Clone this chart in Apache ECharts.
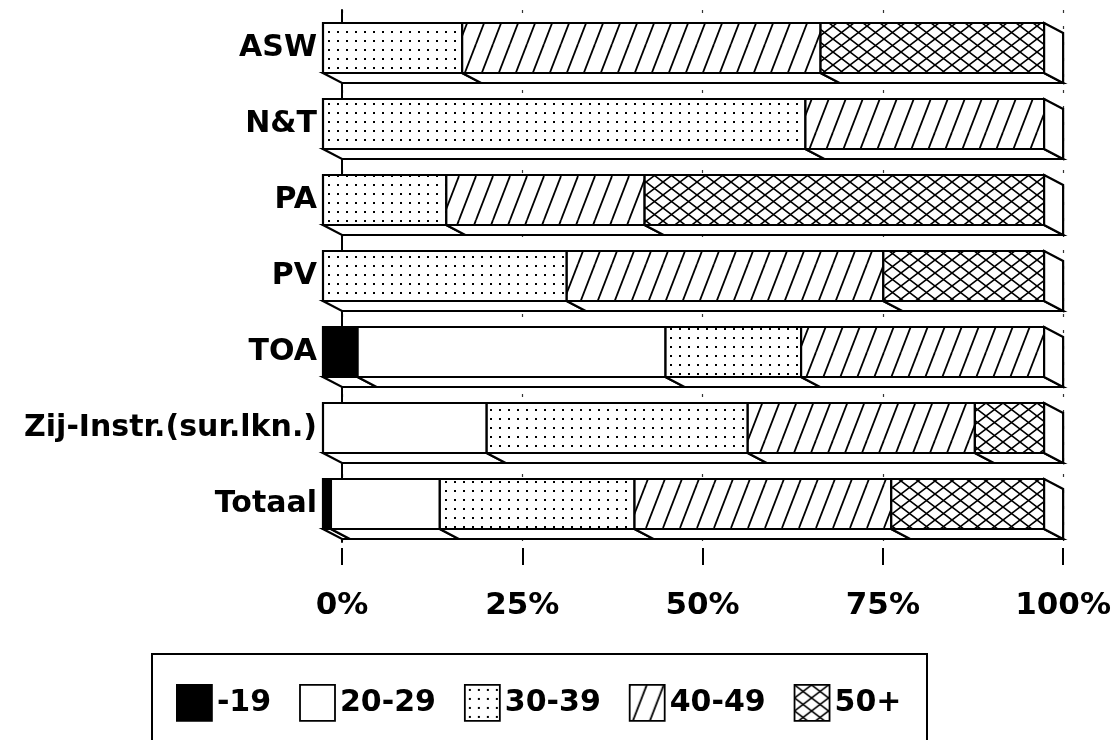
<!DOCTYPE html>
<html>
<head>
<meta charset="utf-8">
<script src="https://cdn.jsdelivr.net/npm/echarts@6/dist/echarts.min.js"></script>
<style>
  html, body { margin: 0; padding: 0; background: #fff; }
  #chart { width: 1114px; height: 740px; }
</style>
</head>
<body>
<div id="chart"></div>
<script>
// categories, top to bottom
var categories = ['ASW', 'N&T', 'PA', 'PV', 'TOA', 'Zij-Instr.(sur.lkn.)', 'Totaal']
var groups = ['-19', '20-29', '30-39', '40-49', '50+']
var tickLabels = ['0%', '25%', '50%', '75%', '100%']

// percentages per age group
var u19 = [0, 0, 0, 0, 4.8, 0, 1.1]
var a20 = [0, 0, 0, 0, 42.7, 22.7, 15.1]
var a30 = [19.3, 66.9, 17.1, 33.8, 18.8, 36.2, 27.0]
var a40 = [49.7, 33.1, 27.5, 43.9, 33.7, 31.5, 35.6]
var a50 = [31.0, 0, 55.4, 22.3, 0, 9.6, 21.2]

var FONT = 'DejaVu Sans'

function tile(w, h, draw) {
  var c = document.createElement('canvas')
  c.width = w
  c.height = h
  var ctx = c.getContext('2d')
  ctx.fillStyle = '#fff'
  ctx.fillRect(0, 0, w, h)
  ctx.strokeStyle = '#000'
  ctx.fillStyle = '#000'
  draw(ctx, w, h)
  return { image: c, repeat: 'repeat' }
}

var dots = tile(9, 9, function (ctx) {
  ctx.fillRect(4, 4, 2, 2)
})
var hatch = tile(17, 44, function (ctx, w, h) {
  ctx.lineWidth = 1.8
  for (var k = -1; k <= 1; k++) {
    ctx.beginPath()
    ctx.moveTo(k * w, h)
    ctx.lineTo(k * w + w, 0)
    ctx.stroke()
  }
})
var cross = tile(17, 13, function (ctx, w, h) {
  ctx.lineWidth = 1.6
  for (var i = -1; i <= 1; i++) {
    for (var j = -1; j <= 1; j++) {
      ctx.beginPath()
      ctx.moveTo(i * w, j * h)
      ctx.lineTo(i * w + w, j * h + h)
      ctx.moveTo(i * w, j * h + h)
      ctx.lineTo(i * w + w, j * h)
      ctx.stroke()
    }
  }
})
var fills = ['#000', '#fff', dots, hatch, cross]
var values = [u19, a20, a30, a40, a50]

// build stacked [start, end, category] rows
var starts = categories.map(function () { return 0 })
var seriesData = values.map(function (vals) {
  return vals.map(function (v, j) {
    var s = starts[j]
    starts[j] += v
    return [s, s + v, j]
  })
})

var DX = 19, DY = 10, H = 50

function makeRender(fill) {
  return function (params, api) {
    var s = api.value(0), e = api.value(1), c = api.value(2)
    if (e - s <= 0) return
    var p0 = api.coord([s, c])
    var p1 = api.coord([e, c])
    var fx0 = p0[0] - DX, fx1 = p1[0] - DX
    var fy0 = p0[1] - H / 2, fy1 = p0[1] + H / 2
    var line = { stroke: '#000', lineWidth: 2.2, lineJoin: 'miter' }
    var children = [
      {
        type: 'polygon',
        shape: { points: [[fx0, fy1], [fx1, fy1], [p1[0], fy1 + DY], [p0[0], fy1 + DY]] },
        style: Object.assign({ fill: '#fff' }, line)
      },
      {
        type: 'rect',
        shape: { x: fx0, y: fy0, width: fx1 - fx0, height: H },
        style: Object.assign({ fill: fill }, line)
      }
    ]
    if (e >= 99.9) {
      children.push({
        type: 'polygon',
        shape: { points: [[fx1, fy0], [p1[0], fy0 + DY], [p1[0], fy1 + DY], [fx1, fy1]] },
        style: Object.assign({ fill: '#fff' }, line)
      })
    }
    return { type: 'group', children: children }
  }
}

var myChart = echarts.init(document.getElementById('chart'), null, { renderer: 'canvas' })

var option = {
  animation: false,
  backgroundColor: '#fff',
  textStyle: { fontFamily: FONT },
  grid: {
    left: 342,
    right: 49,
    top: 10,
    bottom: 198
  },
  legend: {
    left: 171,
    top: 679,
    itemWidth: 35,
    itemHeight: 36,
    itemGap: 28,
    selectedMode: false,
    icon: 'rect',
    textStyle: {
      fontFamily: FONT,
      fontWeight: 'bold',
      fontSize: 30,
      color: '#000'
    },
    data: groups.map(function (g, i) {
      return {
        name: g,
        itemStyle: { color: fills[i], borderColor: '#000', borderWidth: 1.8 }
      }
    })
  },
  graphic: [
    {
      type: 'rect',
      shape: { x: 152, y: 654, width: 775, height: 130 },
      style: { fill: null, stroke: '#000', lineWidth: 2 }
    }
  ],
  xAxis: {
    type: 'value',
    min: 0,
    max: 100,
    interval: 25,
    offset: 6,
    axisLine: { show: false },
    axisTick: {
      show: true,
      length: 17,
      lineStyle: { color: '#000', width: 2 }
    },
    axisLabel: {
      margin: 42,
      fontFamily: FONT,
      fontWeight: 'bold',
      fontSize: 31,
      color: '#000',
      formatter: function (v) {
        return tickLabels[Math.round(v / 25)]
      }
    },
    splitLine: {
      show: true,
      lineStyle: { color: '#333', width: 1.2, type: [3, 13] }
    }
  },
  yAxis: {
    type: 'category',
    inverse: true,
    data: categories,
    axisLine: {
      show: true,
      lineStyle: { color: '#000', width: 2 }
    },
    axisTick: { show: false },
    axisLabel: {
      margin: 25,
      fontFamily: FONT,
      fontWeight: 'bold',
      fontSize: 30,
      color: '#000'
    }
  },
  series: groups.map(function (g, i) {
    return {
      name: g,
      type: 'custom',
      renderItem: makeRender(fills[i]),
      itemStyle: { color: fills[i], borderColor: '#000', borderWidth: 1.8 },
      encode: { x: [0, 1], y: 2 },
      data: seriesData[i]
    }
  })
}

myChart.setOption(option)
</script>
</body>
</html>
